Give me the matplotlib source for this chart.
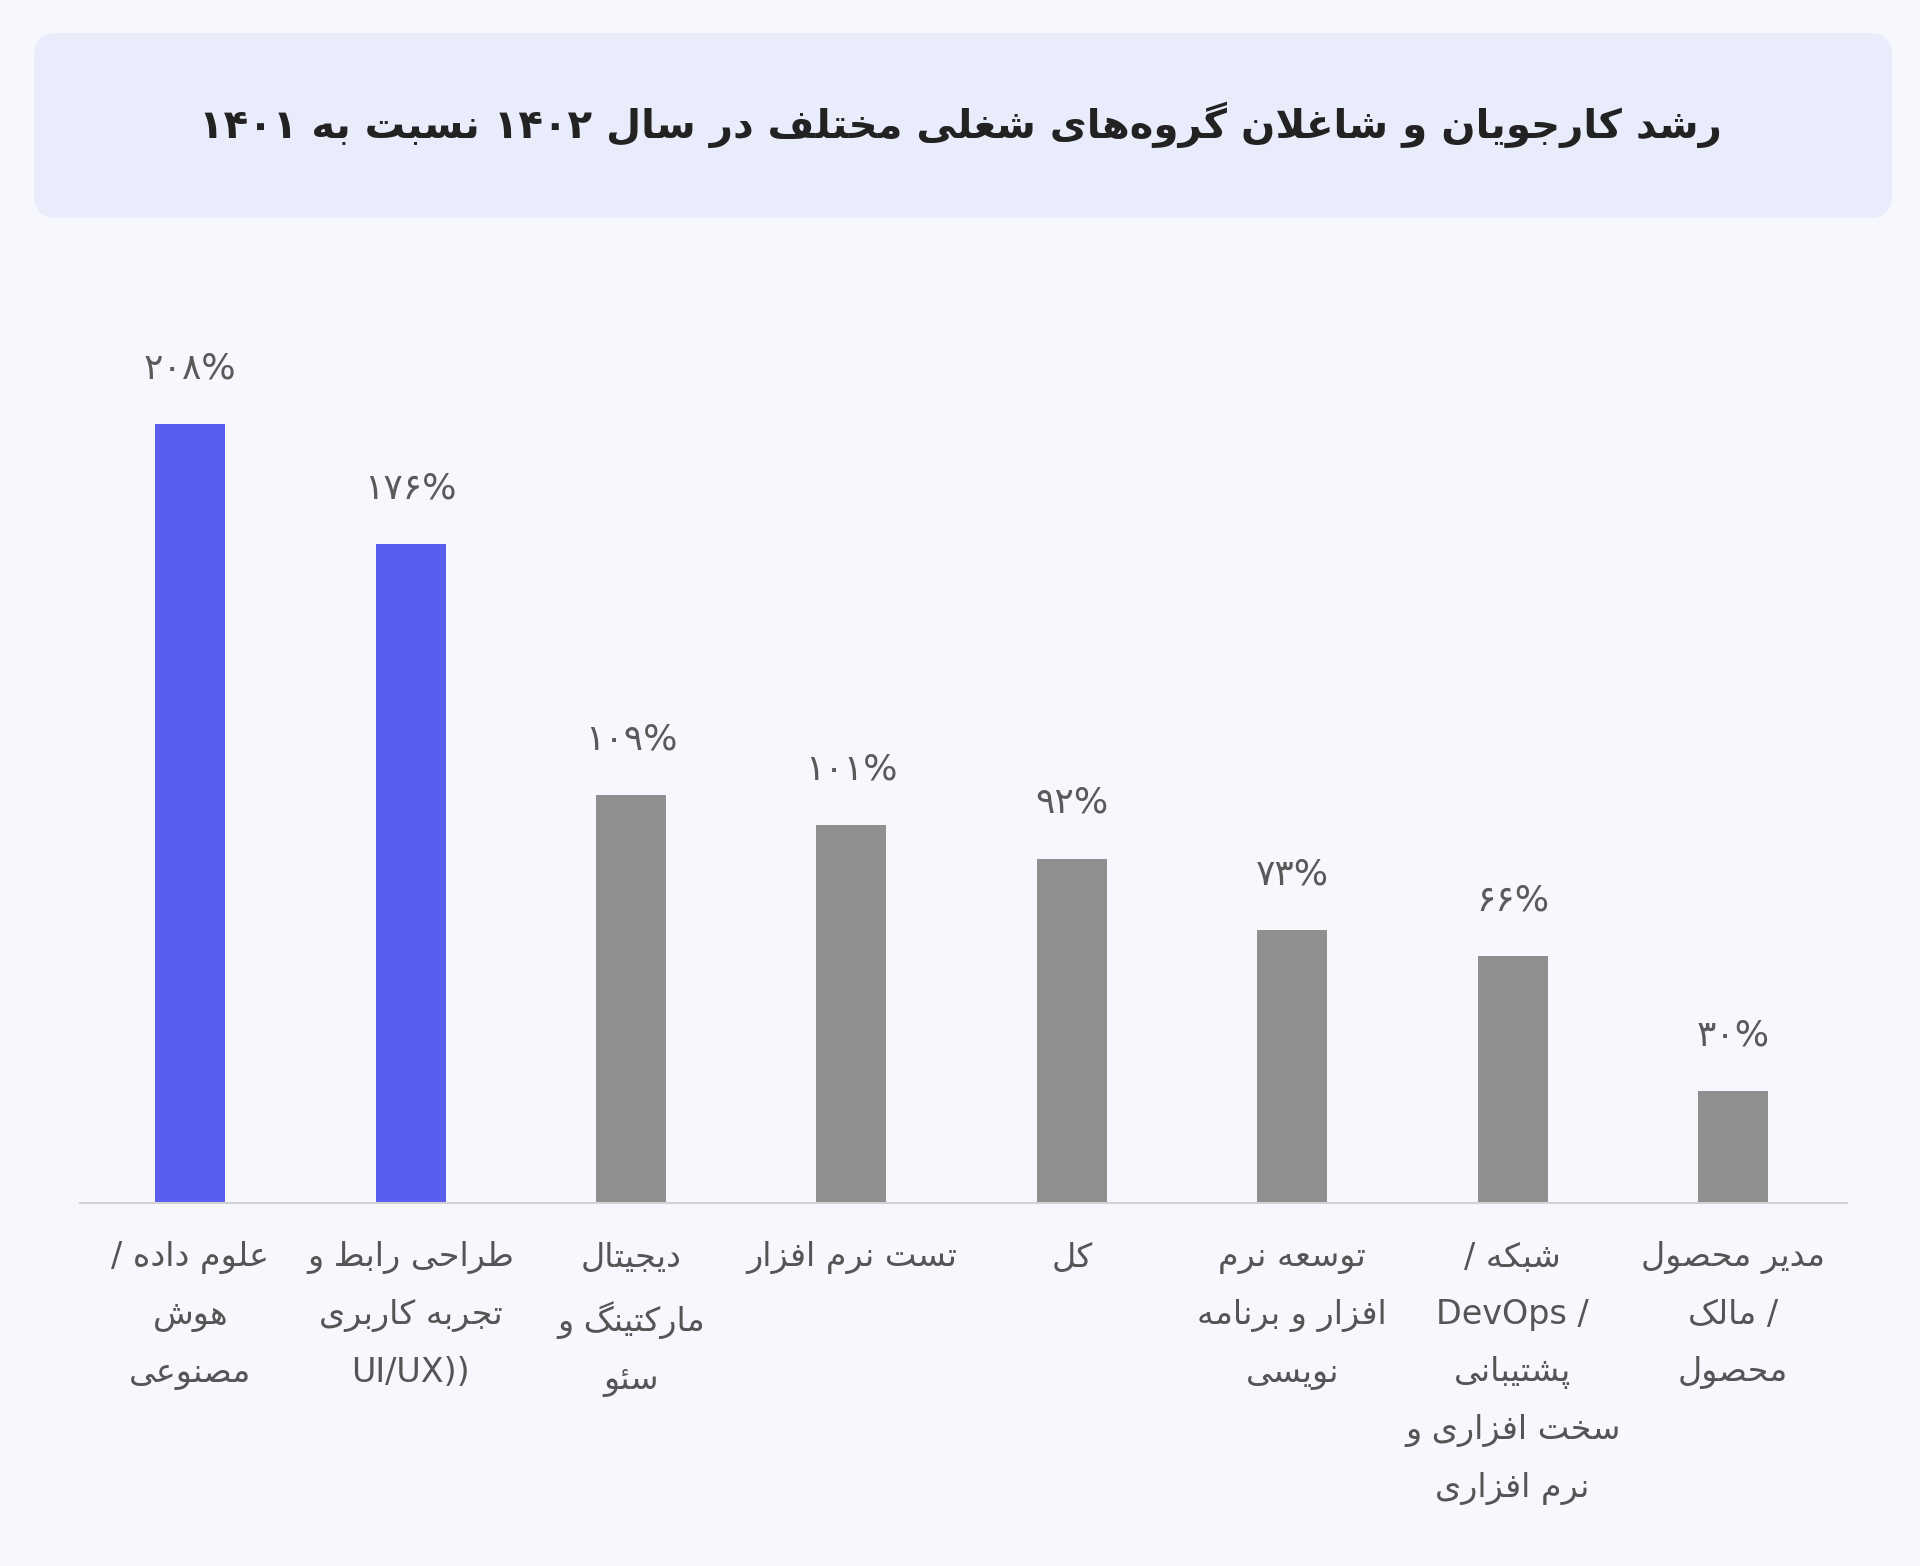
import numpy as np
import matplotlib
matplotlib.use('Agg')
import matplotlib.pyplot as plt
from matplotlib.patches import FancyBboxPatch

plt.rcParams['font.family'] = ['DejaVu Sans']

# data (logical Persian text, shaped for display below)
title = 'رشد کارجویان و شاغلان گروه‌های شغلی مختلف در سال ۱۴۰۲ نسبت به ۱۴۰۱'
categories = [
    'علوم داده /\nهوش\nمصنوعی',
    'طراحی رابط و\nتجربه کاربری\nUI/UX))',
    'دیجیتال\nمارکتینگ و\nسئو',
    'تست نرم افزار',
    'کل',
    'توسعه نرم\nافزار و برنامه\nنویسی',
    'شبکه /\n/ DevOps\nپشتیبانی\nسخت افزاری و\nنرم افزاری',
    'مدیر محصول\n/ مالک\nمحصول',
]
growth = [208, 176, 109, 101, 92, 73, 66, 30]
n_highlight = 2

# presentation forms: isolated, final, initial, medial
FORMS = {
    'ا': ('\ufe8d', '\ufe8e'), 'د': ('\ufea9', '\ufeaa'), 'ذ': ('\ufeab', '\ufeac'),
    'ر': ('\ufead', '\ufeae'), 'ز': ('\ufeaf', '\ufeb0'), 'ژ': ('\ufb8a', '\ufb8b'),
    'و': ('\ufeed', '\ufeee'),
    'ب': ('\ufe8f', '\ufe90', '\ufe91', '\ufe92'), 'پ': ('\ufb56', '\ufb57', '\ufb58', '\ufb59'),
    'ت': ('\ufe95', '\ufe96', '\ufe97', '\ufe98'), 'ث': ('\ufe99', '\ufe9a', '\ufe9b', '\ufe9c'),
    'ج': ('\ufe9d', '\ufe9e', '\ufe9f', '\ufea0'), 'چ': ('\ufb7a', '\ufb7b', '\ufb7c', '\ufb7d'),
    'ح': ('\ufea1', '\ufea2', '\ufea3', '\ufea4'), 'خ': ('\ufea5', '\ufea6', '\ufea7', '\ufea8'),
    'س': ('\ufeb1', '\ufeb2', '\ufeb3', '\ufeb4'), 'ش': ('\ufeb5', '\ufeb6', '\ufeb7', '\ufeb8'),
    'ص': ('\ufeb9', '\ufeba', '\ufebb', '\ufebc'), 'ض': ('\ufebd', '\ufebe', '\ufebf', '\ufec0'),
    'ط': ('\ufec1', '\ufec2', '\ufec3', '\ufec4'), 'ظ': ('\ufec5', '\ufec6', '\ufec7', '\ufec8'),
    'ع': ('\ufec9', '\ufeca', '\ufecb', '\ufecc'), 'غ': ('\ufecd', '\ufece', '\ufecf', '\ufed0'),
    'ف': ('\ufed1', '\ufed2', '\ufed3', '\ufed4'), 'ق': ('\ufed5', '\ufed6', '\ufed7', '\ufed8'),
    'ک': ('\ufb8e', '\ufb8f', '\ufb90', '\ufb91'), 'گ': ('\ufb92', '\ufb93', '\ufb94', '\ufb95'),
    'ل': ('\ufedd', '\ufede', '\ufedf', '\ufee0'), 'م': ('\ufee1', '\ufee2', '\ufee3', '\ufee4'),
    'ن': ('\ufee5', '\ufee6', '\ufee7', '\ufee8'), 'ه': ('\ufee9', '\ufeea', '\ufeeb', '\ufeec'),
    'ی': ('\ufbfc', '\ufbfd', '\ufbfe', '\ufbff'), 'ئ': ('\ufe89', '\ufe8a', '\ufe8b', '\ufe8c'),
}


def shape(word):
    out = []
    i = 0
    while i < len(word):
        c = word[i]
        if c not in FORMS:
            out.append(c)
            i += 1
            continue
        prev = word[i - 1] if i > 0 else None
        joins_prev = prev in FORMS and len(FORMS[prev]) == 4
        if c == 'ل' and i + 1 < len(word) and word[i + 1] == 'ا':
            out.append('\ufefc' if joins_prev else '\ufefb')
            i += 2
            continue
        nxt = word[i + 1] if i + 1 < len(word) else None
        joins_next = len(FORMS[c]) == 4 and nxt in FORMS
        f = FORMS[c]
        if joins_prev and joins_next:
            out.append(f[3])
        elif joins_prev:
            out.append(f[1])
        elif joins_next:
            out.append(f[2])
        else:
            out.append(f[0])
        i += 1
    return ''.join(out)


def visual(text):
    lines = []
    for line in text.split('\n'):
        words = []
        for w in reversed(line.split(' ')):
            if any(c in FORMS for c in w):
                words.append(shape(w)[::-1].replace('\u200c', ''))
            else:
                words.append(w)
        lines.append(' '.join(words))
    return '\n'.join(lines)


def fa_digits(v):
    return str(v).translate(str.maketrans('0123456789', '۰۱۲۳۴۵۶۷۸۹'))


W, H = 1920, 1566
fig = plt.figure(figsize=(W / 100, H / 100), dpi=100)
fig.patch.set_facecolor('#F7F8FD')

# title box
box = FancyBboxPatch((34 / W, 1 - 218 / H), (1892 - 34) / W, (218 - 33) / H,
                     boxstyle='round,pad=0,rounding_size=0.012',
                     transform=fig.transFigure, facecolor='#E9ECFB',
                     edgecolor='none', mutation_aspect=W / H)
fig.patches.append(box)
fig.text(0.5, 1 - 125 / H, visual(title), ha='center', va='center',
         fontsize=29, fontweight='bold', color='#222222')

ax = fig.add_axes([80 / W, 363 / H, (1847 - 80) / W, 936 / H])
ax.set_facecolor('none')
x = np.arange(len(growth))
colors = ['#5A5EF0' if i < n_highlight else '#8F8F8F' for i in range(len(growth))]
ax.bar(x, growth, width=0.318, color=colors, zorder=2)
ax.set_xlim(-0.5, 7.517)
ax.set_ylim(0, 250)

for s in ['top', 'right', 'left']:
    ax.spines[s].set_visible(False)
ax.spines['bottom'].set_color('#D3D3D6')
ax.spines['bottom'].set_linewidth(1.5)
ax.set_yticks([])
ax.set_xticks([])

for xi, v in zip(x, growth):
    ax.annotate(fa_digits(v) + '%', xy=(xi, v), xytext=(0, 40),
                textcoords='offset points', ha='center', va='center',
                fontsize=26, color='#5A5A5A')

for xi, lab in zip(x, categories):
    ax.annotate(visual(lab), xy=(xi, 0), xytext=(0, -27),
                textcoords='offset points', ha='center', va='top',
                multialignment='center', fontsize=24, color='#555555',
                linespacing=1.93)

fig.savefig('out.png', dpi=100, facecolor=fig.get_facecolor())
